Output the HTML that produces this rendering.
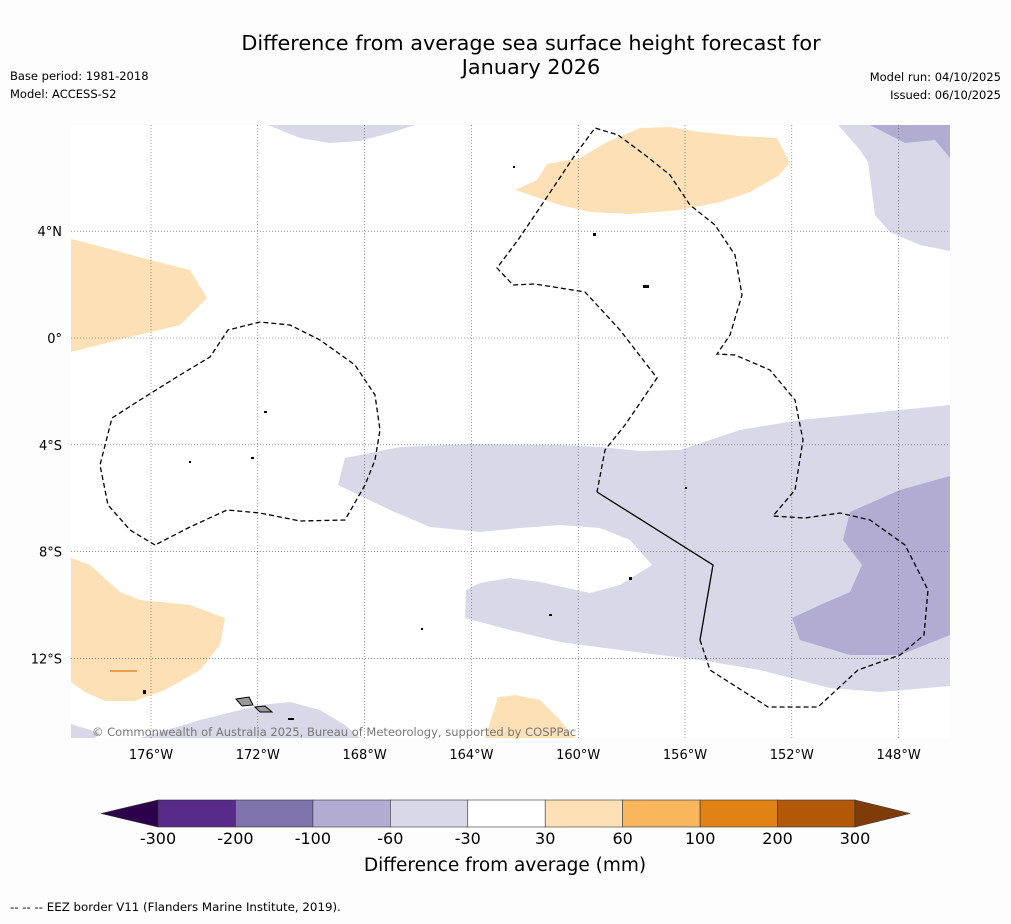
<!DOCTYPE html>
<html><head><meta charset="utf-8"><style>
body{margin:0;background:#fdfdfd;font-family:"Liberation Sans",sans-serif;}
svg text{font-family:"DejaVu Sans","Liberation Sans",sans-serif;}
</style></head><body>
<svg id="s" width="1011" height="919" xmlns="http://www.w3.org/2000/svg">
<rect width="1011" height="919" fill="#fdfdfd"/>
<text x="531" y="50" font-size="20.8" text-anchor="middle">Difference from average sea surface height forecast for</text>
<text x="531" y="74" font-size="20.8" text-anchor="middle">January 2026</text>
<text x="10" y="80" font-size="11.5">Base period: 1981-2018</text>
<text x="10" y="98" font-size="11.5">Model: ACCESS-S2</text>
<text x="1001" y="81" font-size="11.5" text-anchor="end">Model run: 04/10/2025</text>
<text x="1001" y="99" font-size="11.5" text-anchor="end">Issued: 06/10/2025</text>
<g id="map">
<rect x="71" y="125" width="879" height="613" fill="#ffffff"/>
<polygon fill="#d8d8e9" points="345,458 400,447 470,444 560,445 600,447 640,451 680,450 740,430 800,420 870,413 950,405 950,686 880,692 830,688 760,670 700,660 620,650 560,642 510,630 465,618 466,590 480,583 510,578 540,582 590,593 620,585 652,565 630,540 600,528 560,525 520,528 480,532 430,527 390,510 338,485"/>
<polygon fill="#b2abd2" points="950,476 900,490 850,512 843,540 862,565 850,592 820,605 792,618 800,640 850,655 900,655 950,635"/>
<polygon fill="#d8d8e9" points="838,125 860,150 868,162 875,215 890,232 920,245 950,251 950,125"/>
<polygon fill="#b2abd2" points="870,125 905,143 935,140 950,158 950,125"/>
<polygon fill="#d8d8e9" points="268,125 300,138 330,143 360,141 390,133 415,125"/>
<polygon fill="#d8d8e9" points="140,738 200,720 260,705 290,702 320,710 345,725 360,738"/>
<polygon fill="#d8d8e9" points="71,724 100,733 95,738 71,738"/>
<polygon fill="#fde0b6" points="515,190 537,180 547,164 580,158 605,143 640,128 670,127 700,132 740,136 777,138 790,163 778,176 750,192 720,202 680,210 630,214 590,212 560,205"/>
<polygon fill="#fde0b6" points="71,239 95,245 150,260 190,270 207,298 180,325 130,337 71,352"/>
<polygon fill="#fde0b6" points="71,558 90,565 120,592 140,600 190,605 225,618 220,645 200,670 165,690 135,701 105,701 85,692 71,682"/>
<polygon fill="#fde0b6" points="485,738 498,697 515,695 540,700 560,720 575,738"/>
<line x1="110" y1="671" x2="137" y2="671" stroke="#e8a050" stroke-width="2"/>
<g id="grid"></g>
<polyline fill="none" stroke="#000" stroke-width="1.3" stroke-dasharray="5,3" points="155,545 130,530 108,505 100,465 112,418 140,400 180,375 210,357 228,330 260,322 290,325 320,340 355,365 375,395 380,430 375,460 365,485 345,520 300,521 260,513 227,510 190,527 155,545"/>
<polyline fill="none" stroke="#000" stroke-width="1.3" stroke-dasharray="5,3" points="700,640 710,670 768,707 818,707 858,670 900,655 924,635 928,590 905,545 870,520 840,513 805,518 773,516 795,490 803,440 795,400 770,370 735,355 717,354 730,335 742,295 735,255 715,225 690,205 670,175 645,155 618,135 595,128 575,155 545,200 518,240 497,268 513,285 535,284 585,292 620,330 657,378 625,425 605,450 597,492"/>
<polyline fill="none" stroke="#000" stroke-width="1.3" points="597,492 713,565 700,640"/>
<g fill="#000">
<rect x="264" y="411" width="3" height="2"/><rect x="251" y="457" width="3" height="2"/><rect x="189" y="461" width="2" height="2"/>
<rect x="643" y="285" width="6" height="3"/><rect x="593" y="233" width="3" height="3"/><rect x="549" y="614" width="3" height="2"/>
<rect x="629" y="577" width="3" height="3"/><rect x="143" y="690" width="3" height="4"/><rect x="288" y="718" width="6" height="2"/>
<rect x="421" y="628" width="2" height="2"/><rect x="685" y="487" width="2" height="2"/><rect x="513" y="166" width="2" height="2"/>
</g>
<polygon fill="#999" stroke="#000" points="236,699 249,697 253,705 242,706"/>
<polygon fill="#999" stroke="#000" points="255,707 265,706 272,712 260,712"/>
<text x="92" y="736" font-size="11.5" fill="#777">© Commonwealth of Australia 2025, Bureau of Meteorology, supported by COSPPac</text>
</g>
<g id="axes"></g>
<g id="cbar"></g>
<text x="505" y="871" font-size="18.5" text-anchor="middle">Difference from average (mm)</text>
<text x="10" y="911" font-size="11.8">--  --  -- EEZ border V11 (Flanders Marine Institute, 2019).</text>
</svg>
<script>
const lonTicks=[-176,-172,-168,-164,-160,-156,-152,-148];
const latTicks=[4,0,-4,-8,-12];
const cbarBounds=[-300,-200,-100,-60,-30,30,60,100,200,300];
const cbarColors=["#582a8a","#8073ac","#b2abd2","#d8d8e9","#ffffff","#fde0b6","#f9b65c","#e08214","#b35806"];
const NS="http://www.w3.org/2000/svg";
const lonX=l=>151+(l+176)*26.7;
const latY=l=>338-l*26.7;
function mk(t,a,p){const e=document.createElementNS(NS,t);for(const k in a)e.setAttribute(k,a[k]);p.appendChild(e);return e;}
const grid=document.getElementById('grid'),axes=document.getElementById('axes'),cb=document.getElementById('cbar');
lonTicks.forEach(l=>{
 const g=mk('line',{x1:lonX(l),x2:lonX(l),y1:125,y2:738,stroke:'#555','stroke-width':0.6,'stroke-dasharray':'1,2'},grid);
 
 
 const t=mk('text',{x:lonX(l),y:759,'font-size':13,'text-anchor':'middle'},axes);
 t.textContent=Math.abs(l)+'°W';
 
 
});
latTicks.forEach(l=>{
 const g=mk('line',{x1:71,x2:950,y1:latY(l),y2:latY(l),stroke:'#555','stroke-width':0.6,'stroke-dasharray':'1,2'},grid);
 
 
 const t=mk('text',{x:62,y:latY(l)+5,'font-size':13,'text-anchor':'end'},axes);
 t.textContent=l===0?'0°':Math.abs(l)+'°'+(l>0?'N':'S');
 
 
});
const x0=158,x1=855,n=cbarColors.length,w=(x1-x0)/n,yt=800,h=27;
cbarColors.forEach((c,i)=>{
 const r=mk('rect',{x:x0+i*w,y:yt,width:w,height:h,fill:c,stroke:'#333','stroke-width':0.6},cb);
 
 
});
const lt=mk('polygon',{points:`101,${yt+h/2} ${x0},${yt} ${x0},${yt+h}`,fill:'#2d004b',stroke:'#333','stroke-width':0.6},cb);


const rt=mk('polygon',{points:`910,${yt+h/2} ${x1},${yt} ${x1},${yt+h}`,fill:'#7f3b08',stroke:'#333','stroke-width':0.6},cb);


cbarBounds.forEach((b,i)=>{
 const t=mk('text',{x:x0+i*w,y:844,'font-size':16,'text-anchor':'middle'},cb);
 t.textContent=b;
 
 
});
</script>
</body></html>
